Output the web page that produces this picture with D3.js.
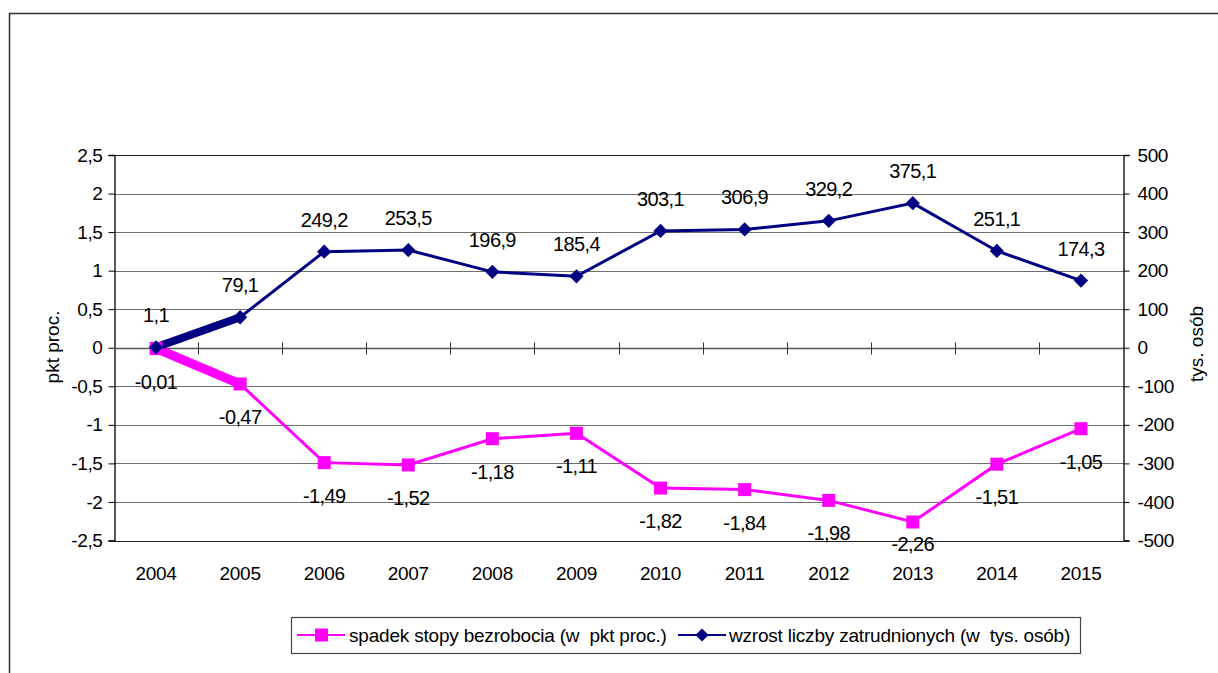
<!DOCTYPE html>
<html lang="pl">
<head>
<meta charset="utf-8">
<title>Zatrudnienie i bezrobocie</title>
<script src="https://cdn.jsdelivr.net/npm/d3@7"></script>
<style>
  body { margin: 0; background: #fff; }
  svg text { font-family: "Liberation Sans", Arial, sans-serif; fill: #000; white-space: pre; }
</style>
</head>
<body>
<div id="chart"></div>
<script>
// data
var years = ["2004","2005","2006","2007","2008","2009","2010","2011","2012","2013","2014","2015"];
var spadek = [-0.01, -0.47, -1.49, -1.52, -1.18, -1.11, -1.82, -1.84, -1.98, -2.26, -1.51, -1.05];
var wzrost = [1.1, 79.1, 249.2, 253.5, 196.9, 185.4, 303.1, 306.9, 329.2, 375.1, 251.1, 174.3];
var leftTicks = [-2.5, -2, -1.5, -1, -0.5, 0, 0.5, 1, 1.5, 2, 2.5];
var rightTicks = [-500, -400, -300, -200, -100, 0, 100, 200, 300, 400, 500];
var seriesNames = ["spadek stopy bezrobocia (w  pkt proc.)", "wzrost liczby zatrudnionych (w  tys. osób)"];

var W = 1218, H = 673;
var pL = 114, pR = 1123, pT = 155, pB = 540.5;
var pink = "#ff00ff", navy = "#000080";

function pl(v) { return String(v).replace(".", ","); }

var svg = d3.select("#chart").append("svg")
  .attr("width", W).attr("height", H);

// outer frame
svg.append("rect")
  .attr("x", 9.5).attr("y", 13.5).attr("width", 1230).attr("height", 700)
  .attr("fill", "none").attr("stroke", "#333").attr("stroke-width", 1.5);

var x = d3.scaleBand().domain(years).range([pL, pR]);
var yL = d3.scaleLinear().domain([-2.5, 2.5]).range([pB, pT]);
var yR = d3.scaleLinear().domain([-500, 500]).range([pB, pT]);
var cx = function(d, i) { return x(years[i]) + x.bandwidth() / 2; };

// gridlines
svg.append("g").selectAll("line").data(leftTicks).enter().append("line")
  .attr("x1", pL).attr("x2", pR)
  .attr("y1", function(d) { return Math.round(yL(d)) + 0.5; })
  .attr("y2", function(d) { return Math.round(yL(d)) + 0.5; })
  .attr("stroke", function(d) { return (d == 2.5 || d == -2.5) ? "#222" : "#6e6e6e"; })
  .attr("stroke-width", 1.2);

// left axis
var gL = svg.append("g").attr("transform", "translate(" + (pL + 0.5) + ",0)")
  .call(d3.axisLeft(yL).tickValues(leftTicks).tickSize(6).tickPadding(6).tickFormat(pl));
// right axis
var gR = svg.append("g").attr("transform", "translate(" + (pR + 0.5) + ",0)")
  .call(d3.axisRight(yR).tickValues(rightTicks).tickSize(6).tickPadding(8).tickFormat(pl));
[gL, gR].forEach(function(g) {
  g.select(".domain").attr("stroke", "#000").attr("stroke-width", 1.3);
  g.selectAll(".tick line").attr("stroke", "#000");
  g.selectAll(".tick text").attr("font-size", 19).attr("letter-spacing", -0.4)
    .style("font-family", "'Liberation Sans', Arial, sans-serif");
});

// x axis on zero
var zeroY = Math.round(yL(0)) + 0.5;
svg.append("line").attr("x1", pL).attr("x2", pR).attr("y1", zeroY).attr("y2", zeroY)
  .attr("stroke", "#555").attr("stroke-width", 1.3);
svg.append("g").selectAll("line").data(years.slice(1)).enter().append("line")
  .attr("x1", function(d) { return Math.round(x(d)) + 0.5; })
  .attr("x2", function(d) { return Math.round(x(d)) + 0.5; })
  .attr("y1", zeroY - 6).attr("y2", zeroY + 6)
  .attr("stroke", "#333");
svg.append("g").selectAll("text").data(years).enter().append("text")
  .attr("x", function(d) { return x(d) + x.bandwidth() / 2; })
  .attr("y", 580)
  .attr("text-anchor", "middle").attr("font-size", 19).attr("letter-spacing", -0.3)
  .text(function(d) { return d; });

// axis titles
svg.append("text").attr("transform", "translate(59,347) rotate(-90)")
  .attr("text-anchor", "middle").attr("font-size", 19).text("pkt proc.");
svg.append("text").attr("transform", "translate(1203,344) rotate(-90)")
  .attr("text-anchor", "middle").attr("font-size", 19).text("tys. osób");

// lines
var linePink = d3.line().x(cx).y(function(d) { return yL(d); });
var lineNavy = d3.line().x(cx).y(function(d) { return yR(d); });

svg.append("path").datum(spadek).attr("d", linePink)
  .attr("fill", "none").attr("stroke", pink).attr("stroke-width", 3);
svg.append("path").datum(spadek.slice(0, 2)).attr("d", linePink)
  .attr("fill", "none").attr("stroke", pink).attr("stroke-width", 9);
svg.append("path").datum(wzrost).attr("d", lineNavy)
  .attr("fill", "none").attr("stroke", navy).attr("stroke-width", 3);
svg.append("path").datum(wzrost.slice(0, 2)).attr("d", lineNavy)
  .attr("fill", "none").attr("stroke", navy).attr("stroke-width", 8);

// markers
var sq = 13;
svg.append("g").selectAll("rect").data(spadek).enter().append("rect")
  .attr("x", function(d, i) { return cx(d, i) - sq / 2; })
  .attr("y", function(d) { return yL(d) - sq / 2; })
  .attr("width", sq).attr("height", sq).attr("fill", pink);
var diamond = d3.symbol().type(d3.symbolDiamond2).size(130);
svg.append("g").selectAll("path").data(wzrost).enter().append("path")
  .attr("transform", function(d, i) { return "translate(" + cx(d, i) + "," + yR(d) + ")"; })
  .attr("d", diamond).attr("fill", navy);

// data labels
svg.append("g").selectAll("text").data(wzrost).enter().append("text")
  .attr("x", cx).attr("y", function(d) { return yR(d) - 25; })
  .attr("text-anchor", "middle").attr("font-size", 20).attr("letter-spacing", -0.6)
  .text(pl);
svg.append("g").selectAll("text").data(spadek).enter().append("text")
  .attr("x", cx).attr("y", function(d) { return Math.min(yL(d) + 40, 551); })
  .attr("text-anchor", "middle").attr("font-size", 20).attr("letter-spacing", -0.6)
  .text(pl);

// legend
var lg = svg.append("g");
lg.append("rect").attr("x", 291.5).attr("y", 617.5).attr("width", 789).attr("height", 36)
  .attr("fill", "#fff").attr("stroke", "#444").attr("stroke-width", 1.2);
var ly = 635;
lg.append("line").attr("x1", 297).attr("x2", 345).attr("y1", ly).attr("y2", ly)
  .attr("stroke", pink).attr("stroke-width", 2);
lg.append("rect").attr("x", 321.5 - 6.5).attr("y", ly - 6.5).attr("width", 13).attr("height", 13)
  .attr("fill", pink);
lg.append("text").attr("x", 349).attr("y", ly + 7).attr("font-size", 19).attr("letter-spacing", -0.2)
  .text(seriesNames[0]);
lg.append("line").attr("x1", 678).attr("x2", 726).attr("y1", ly).attr("y2", ly)
  .attr("stroke", navy).attr("stroke-width", 2);
lg.append("path").attr("transform", "translate(702," + ly + ")")
  .attr("d", d3.symbol().type(d3.symbolDiamond2).size(110)).attr("fill", navy);
lg.append("text").attr("x", 729).attr("y", ly + 7).attr("font-size", 19).attr("letter-spacing", -0.2)
  .text(seriesNames[1]);
</script>
</body>
</html>
